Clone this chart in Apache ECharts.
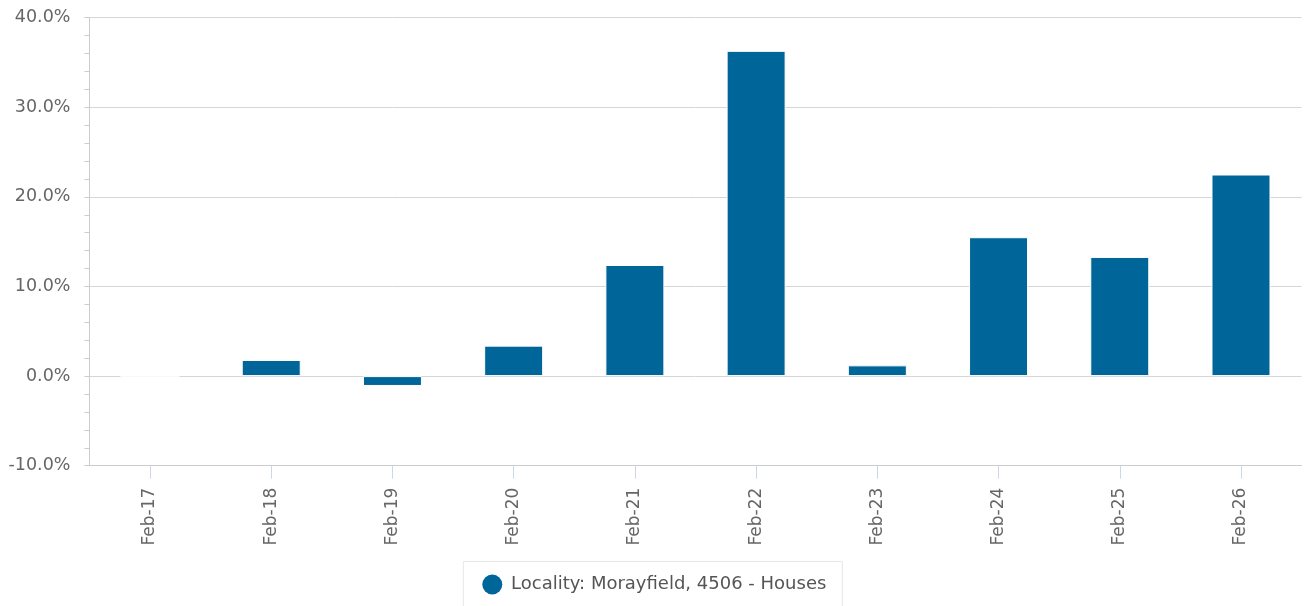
<!DOCTYPE html>
<html>
<head>
<meta charset="utf-8">
<script src="https://cdn.jsdelivr.net/npm/echarts@6/dist/echarts.min.js"></script>
<style>
html,body{margin:0;padding:0;background:#fff;}
#chart{width:1306px;height:606px;}
</style>
</head>
<body>
<div id="chart"></div>
<script>
const categories = ['Feb-17','Feb-18','Feb-19','Feb-20','Feb-21','Feb-22','Feb-23','Feb-24','Feb-25','Feb-26'];
const seriesName = 'Locality: Morayfield, 4506 - Houses';
const values = [0, 1.8, -1.1, 3.4, 12.4, 36.3, 1.2, 15.5, 13.3, 22.5];
const yMin = -10, yMax = 40, yInterval = 10;

const chart = echarts.init(document.getElementById('chart'), null, {renderer:'canvas'});
const font = 'DejaVu Sans';
chart.setOption({
  animation: false,
  textStyle: {fontFamily: font},
  grid: {left: 89.4, right: 4.4, top: 17.7, bottom: 140.3, containLabel: false},
  legend: {
    data: [{name: seriesName, icon: 'circle'}],
    left: 463.3,
    top: 561.5,
    itemWidth: 27.5,
    itemHeight: 20,
    padding: [13, 16, 20, 19],
    borderColor: '#e6e6e6',
    borderWidth: 1,
    itemStyle: {borderWidth: 0},
    textStyle: {color: '#555', fontSize: 18, fontFamily: font}
  },
  xAxis: {
    type: 'category',
    data: categories,
    boundaryGap: true,
    axisLine: {show: true, onZero: false, lineStyle: {color: '#ccc'}},
    axisTick: {show: true, alignWithLabel: true, length: 13, lineStyle: {color: '#ccd6eb'}},
    axisLabel: {rotate: 90, margin: 22, color: '#666', fontSize: 17, fontFamily: font},
    splitLine: {show: false}
  },
  yAxis: {
    type: 'value',
    min: yMin, max: yMax, interval: yInterval,
    axisLine: {show: true, lineStyle: {color: '#ccc'}},
    axisTick: {show: true, length: 5, lineStyle: {color: '#ccc'}},
    minorTick: {show: true, splitNumber: 5, length: 5, lineStyle: {color: '#ccc'}},
    axisLabel: {margin: 19, color: '#666', fontSize: 17.5, fontFamily: font,
      formatter: v => v.toFixed(1) + '%'},
    splitLine: {show: true, lineStyle: {color: '#d6d6d6'}}
  },
  series: [{
    name: seriesName,
    type: 'bar',
    data: values,
    barWidth: 59,
    itemStyle: {color: '#006699', borderColor: '#fff', borderWidth: 1}
  }]
});
</script>
</body>
</html>
